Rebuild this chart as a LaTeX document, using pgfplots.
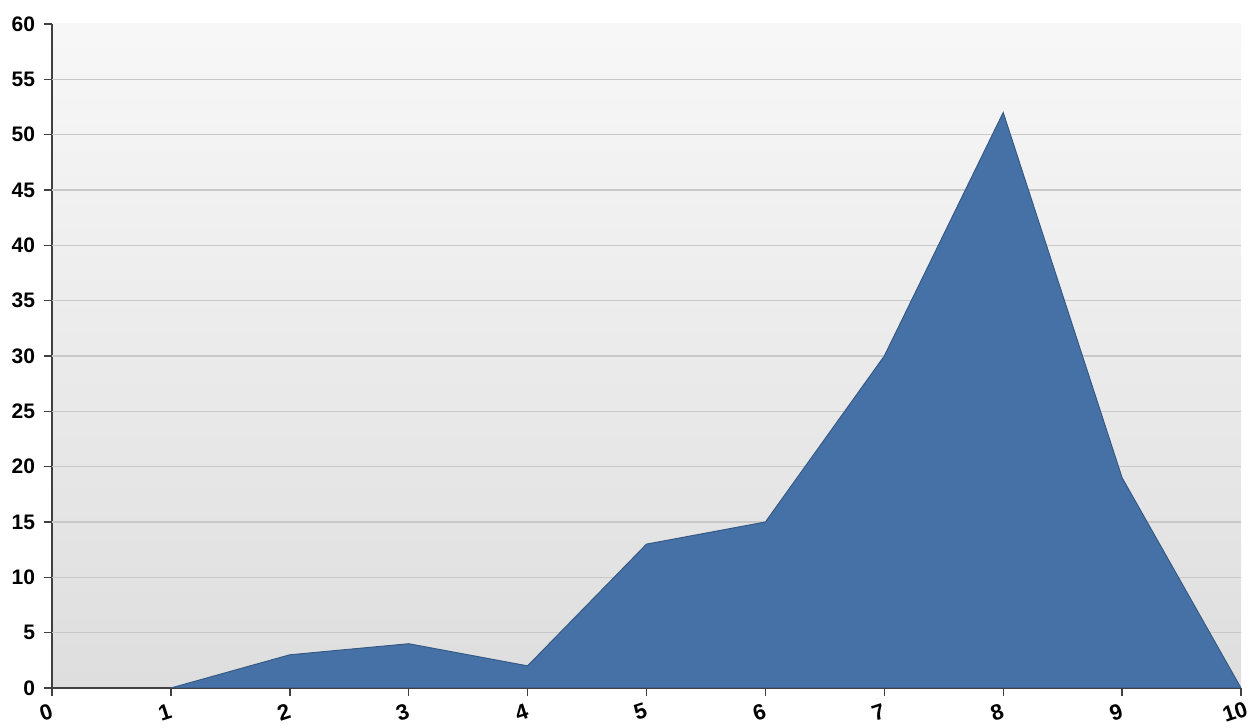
\documentclass[border=0pt]{standalone}
\usepackage{fontspec}
\setmainfont{Liberation Sans}
\usepackage{pgfplots}
\pgfplotsset{compat=1.18}
\definecolor{areablue}{HTML}{4571A6}
\definecolor{gridgray}{HTML}{C8C8C8}
\begin{document}
\begin{tikzpicture}
\begin{axis}[
  scale only axis,
  width=594.5pt, height=332pt,
  xmin=0, xmax=10, ymin=0, ymax=60,
  xtick={0,1,...,10}, ytick={0,5,...,60},
  axis lines*=left,
  axis line style={draw=black!75, line width=0.9pt},
  tick style={draw=black!75, line width=0.7pt},
  tick align=outside,
  major tick length=4pt,
  extra y ticks={5,10,...,55},
  extra y tick labels={},
  extra y tick style={ymajorgrids=true, major tick length=0pt},
  grid style={gridgray, line width=0.7pt},
  axis background/.style={top color=white!97!black, bottom color=black!13},
  tick label style={font=\bfseries\fontsize{10.5}{12}\selectfont},
  /pgf/number format/assume math mode=true,
  xticklabel style={font=\bfseries\fontsize{11}{12}\selectfont, anchor=center, yshift=-8pt, xshift=-3pt, rotate=18},
  yticklabel style={xshift=-1pt},
]
\addplot[fill=areablue, draw=areablue!80!black, line width=0.5pt] coordinates {
  (1,0) (2,3) (3,4) (4,2) (5,13) (6,15) (7,30) (8,52) (9,19) (10,0)
} \closedcycle;
\end{axis}
\pgfresetboundingbox
\path[use as bounding box] (-26pt,-20pt) rectangle (599pt,344pt);
\end{tikzpicture}
\end{document}
